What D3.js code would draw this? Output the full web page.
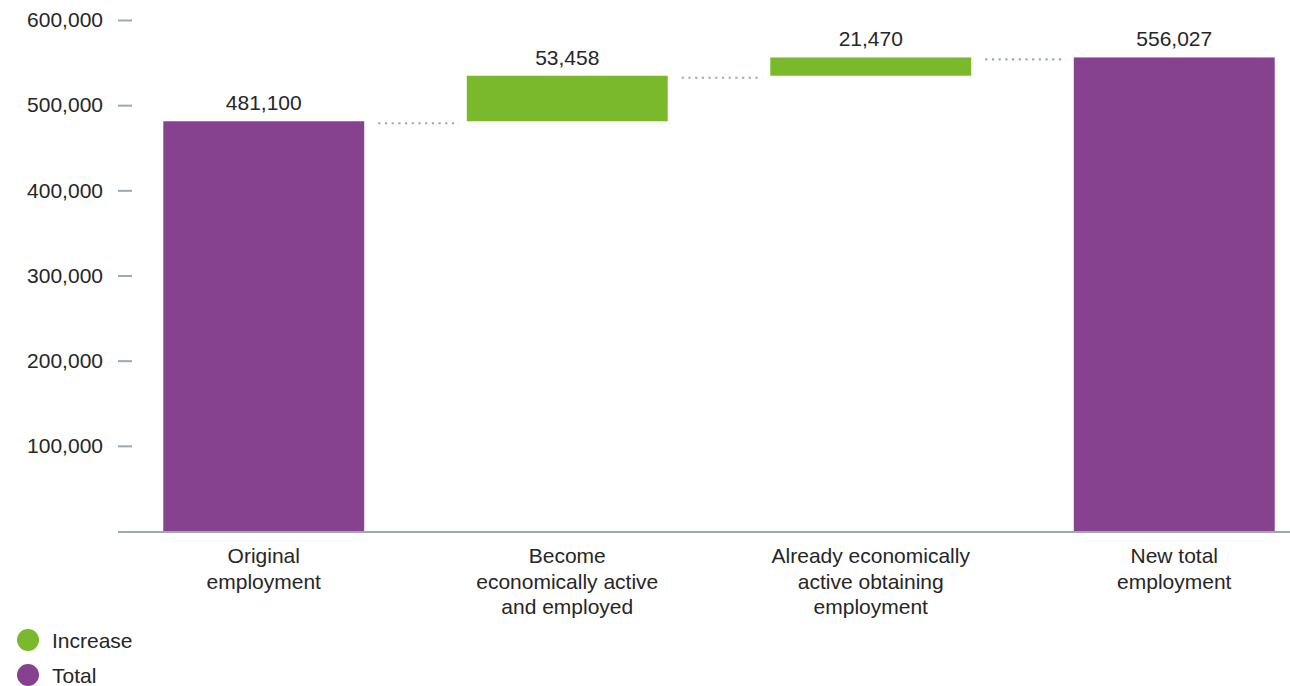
<!DOCTYPE html>
<html>
<head>
<meta charset="utf-8">
<script src="https://cdn.jsdelivr.net/npm/d3@7"></script>
<style>
	body { margin: 0; background: #fff; }
	text { font-family: "Liberation Sans", Arial, sans-serif; }
</style>
</head>
<body>
<div id="chart-area"></div>
<script>
// SVG Size
let width = 1290,
	height = 686;

// data
let categories = [
	["Original", "employment"],
	["Become", "economically active", "and employed"],
	["Already economically", "active obtaining", "employment"],
	["New total", "employment"]
];
let values = [481100, 53458, 21470, 556027];
let kinds = ["total", "increase", "increase", "total"];
let yTicks = [100000, 200000, 300000, 400000, 500000, 600000];
let legendItems = ["Increase", "Total"];

let colors = { increase: "#7ab82c", total: "#86418f" };
let grey = "#9aa9b3";
let textColor = "#262626";
let fontSize = "21px";

// build start / end of each bar
let running = 0;
let bars = values.map((v, i) => {
	let d = { i: i, value: v, kind: kinds[i], label: categories[i] };
	if (kinds[i] === "total") {
		d.start = 0;
		d.end = v;
		running = v;
	} else {
		d.start = running;
		d.end = running + v;
		running = d.end;
	}
	return d;
});

let svg = d3.select("#chart-area").append("svg")
	.attr("width", width)
	.attr("height", height);

let XScale = d3.scaleBand()
	.domain(d3.range(values.length))
	.range([112, 1326])
	.paddingInner(0.338)
	.paddingOuter(0.169);

let YScale = d3.scaleLinear()
	.domain([0, 600000])
	.range([531, 20]);

// y axis: only short ticks and labels
let yAxis = d3.axisLeft(YScale)
	.tickValues(yTicks)
	.tickSize(14)
	.tickPadding(15)
	.tickFormat(d3.format(","));

let yg = svg.append("g")
	.attr("class", "axis y-axis")
	.attr("transform", "translate(132,0)")
	.call(yAxis);
yg.select(".domain").remove();
yg.selectAll("line").attr("stroke", grey).attr("stroke-width", 2);
yg.selectAll("text")
	.attr("fill", textColor)
	.style("font-size", fontSize)
	.style("font-family", "'Liberation Sans', Arial, sans-serif");

// bars
svg.selectAll(".bar").data(bars)
	.enter()
	.append("rect")
	.attr("class", "bar")
	.attr("x", d => XScale(d.i))
	.attr("width", XScale.bandwidth())
	.attr("y", d => YScale(d.end))
	.attr("height", d => YScale(d.start) - YScale(d.end))
	.attr("fill", d => colors[d.kind]);

// connectors
svg.selectAll(".connector").data(bars.slice(0, -1))
	.enter()
	.append("line")
	.attr("class", "connector")
	.attr("x1", d => XScale(d.i) + XScale.bandwidth() + 14)
	.attr("x2", d => XScale(d.i + 1) - 8)
	.attr("y1", d => YScale(d.end) + 2)
	.attr("y2", d => YScale(d.end) + 2)
	.attr("stroke", grey)
	.attr("stroke-width", 2.2)
	.attr("stroke-dasharray", "2.2,4.5");

// value labels
svg.selectAll(".value-label").data(bars)
	.enter()
	.append("text")
	.attr("class", "value-label")
	.attr("x", d => XScale(d.i) + XScale.bandwidth() / 2)
	.attr("y", d => YScale(d.end) - 11)
	.attr("text-anchor", "middle")
	.attr("fill", textColor)
	.style("font-size", fontSize)
	.text(d => d3.format(",")(d.value));

// x axis line
svg.append("line")
	.attr("x1", 118)
	.attr("x2", width)
	.attr("y1", 532)
	.attr("y2", 532)
	.attr("stroke", grey)
	.attr("stroke-width", 2);

// category labels
let cat = svg.selectAll(".cat-label").data(bars)
	.enter()
	.append("text")
	.attr("class", "cat-label")
	.attr("text-anchor", "middle")
	.attr("fill", textColor)
	.style("font-size", fontSize);
cat.selectAll("tspan").data(d => d.label.map(l => ({ l: l, x: XScale(d.i) + XScale.bandwidth() / 2 })))
	.enter()
	.append("tspan")
	.attr("x", d => d.x)
	.attr("y", (d, j) => 563 + j * 25.5)
	.text(d => d.l);

// legend
let legend = svg.selectAll(".legend").data(legendItems)
	.enter()
	.append("g")
	.attr("class", "legend")
	.attr("transform", (d, i) => "translate(28," + (640 + i * 35) + ")");
legend.append("circle")
	.attr("r", 11)
	.attr("fill", d => colors[d.toLowerCase()]);
legend.append("text")
	.attr("x", 24)
	.attr("y", 7.5)
	.attr("fill", textColor)
	.style("font-size", fontSize)
	.text(d => d);
</script>
</body>
</html>
